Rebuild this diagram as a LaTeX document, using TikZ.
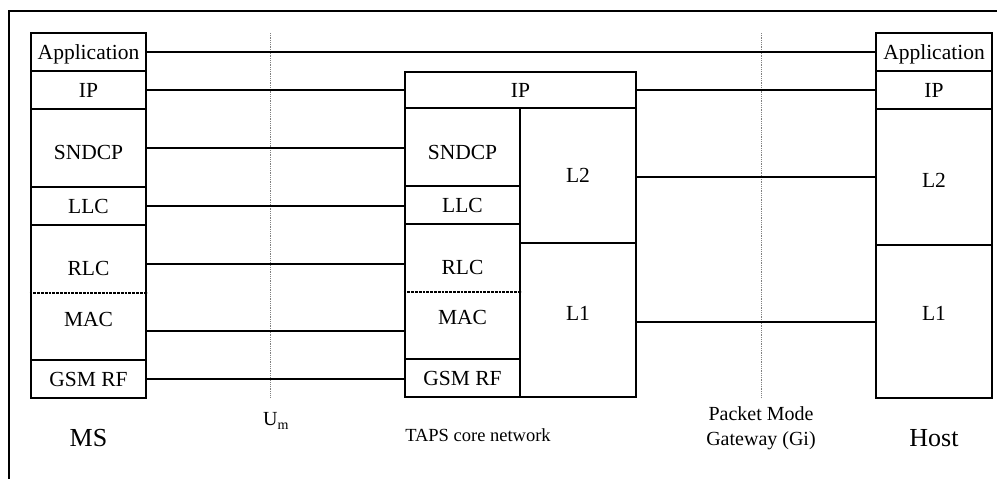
\documentclass[tikz,border=0pt]{standalone}
\usepackage{fontspec}
\setmainfont{Liberation Serif}
\begin{document}
\begin{tikzpicture}[x=1pt,y=-1pt,
  layer/.style={draw,line width=2.8pt,rectangle,inner sep=0pt,
    text height=14.2pt,text depth=0pt,font=\fontsize{21.5}{24}\selectfont},
  txt/.style={inner sep=0pt,text height=14.2pt,text depth=0pt,font=\fontsize{21.5}{24}\selectfont},
  link/.style={line width=2.1pt},
  split/.style={line width=2.8pt,densely dotted},
  iface/.style={line width=0.8pt,densely dotted,gray},
  caption/.style={inner sep=0pt,align=center},
]
\useasboundingbox (0,0) rectangle (997,479);
% outer frame (extends past the page on the right and bottom)
\draw[line width=2pt] (9,11) rectangle (1010,495);

% interface markers
\coordinate (umTop) at (270,33);   \coordinate (umBot) at (270,398);
\coordinate (giTop) at (761,33);   \coordinate (giBot) at (761,398);
\draw[iface] (umTop) -- (umBot);
\draw[iface] (giTop) -- (giBot);

% MS protocol stack
\node[layer,minimum width=115,minimum height=38] (msApp) at (88.5,52) {Application};
\node[layer,minimum width=115,minimum height=38] (msIP) at (88.5,90) {IP};
\node[layer,minimum width=115,minimum height=78] (msSNDCP) at (88.5,148) {};
\node[txt] (msSNDCPtxt) at (88.5,152) {SNDCP};
\node[layer,minimum width=115,minimum height=38] (msLLC) at (88.5,206) {LLC};
\node[layer,minimum width=115,minimum height=135] (msRM) at (88.5,292.5) {};
\node[txt] (msRLC) at (88.5,268) {RLC};
\node[txt] (msMAC) at (88.5,319) {MAC};
\draw[split] (msRM.west |- 0,293) -- (msRM.east |- 0,293);
\node[layer,minimum width=115,minimum height=38] (msRF) at (88.5,379) {GSM RF};

% TAPS core network stack
\node[layer,minimum width=231,minimum height=36] (tIP) at (520.5,90) {IP};
\node[layer,minimum width=115,minimum height=78] (tSNDCP) at (462.5,147) {};
\node[txt] (tSNDCPtxt) at (462.5,152) {SNDCP};
\node[layer,minimum width=115,minimum height=38] (tLLC) at (462.5,205) {LLC};
\node[layer,minimum width=115,minimum height=135] (tRM) at (462.5,291.5) {};
\node[txt] (tRLC) at (462.5,267) {RLC};
\node[txt] (tMAC) at (462.5,317) {MAC};
\draw[split] (tRM.west |- 0,292) -- (tRM.east |- 0,292);
\node[layer,minimum width=115,minimum height=38] (tRF) at (462.5,378) {GSM RF};
\node[layer,minimum width=116,minimum height=135] (tL2) at (578,175.5) {L2};
\node[layer,minimum width=116,minimum height=154] (tL1) at (578,320) {};
\node[txt] (tL1txt) at (578,313) {L1};

% Host stack
\node[layer,minimum width=116,minimum height=38] (hApp) at (934,52) {Application};
\node[layer,minimum width=116,minimum height=38] (hIP) at (934,90) {IP};
\node[layer,minimum width=116,minimum height=136] (hL2) at (934,177) {};
\node[txt] (hL2txt) at (934,180) {L2};
\node[layer,minimum width=116,minimum height=153] (hL1) at (934,321.5) {};
\node[txt] (hL1txt) at (934,313) {L1};

% peer links
\draw[link] (msApp.east) -- (hApp.west);
\draw[link] (msIP.east) -- (tIP.west);
\draw[link] (tIP.east) -- (hIP.west);
\draw[link] (msSNDCP.east) -- (tSNDCP.west |- msSNDCP.east);
\draw[link] (msLLC.east) -- (tLLC.west |- msLLC.east);
\draw[link] (msRM.east |- 0,264) -- (tRM.west |- 0,264);
\draw[link] (msRM.east |- 0,331) -- (tRM.west |- 0,331);
\draw[link] (msRF.east) -- (tRF.west |- msRF.east);
\draw[link] (tL2.east |- 0,177) -- (hL2.west |- 0,177);
\draw[link] (tL1.east |- 0,322) -- (hL1.west |- 0,322);

% captions
\node[caption,font=\fontsize{26}{30}\selectfont] (msName) at (88.5,438) {MS};
\node[caption,font=\fontsize{20}{24}\selectfont] (umName) at (276,421) {U\textsubscript{m}};
\node[caption,font=\fontsize{18.5}{22}\selectfont] (tapsName) at (478,435) {TAPS core network};
\node[caption,font=\fontsize{20}{25}\selectfont] (giName) at (761,428) {Packet Mode\\Gateway (Gi)};
\node[caption,font=\fontsize{26}{30}\selectfont] (hostName) at (934,438) {Host};
\end{tikzpicture}
\end{document}
